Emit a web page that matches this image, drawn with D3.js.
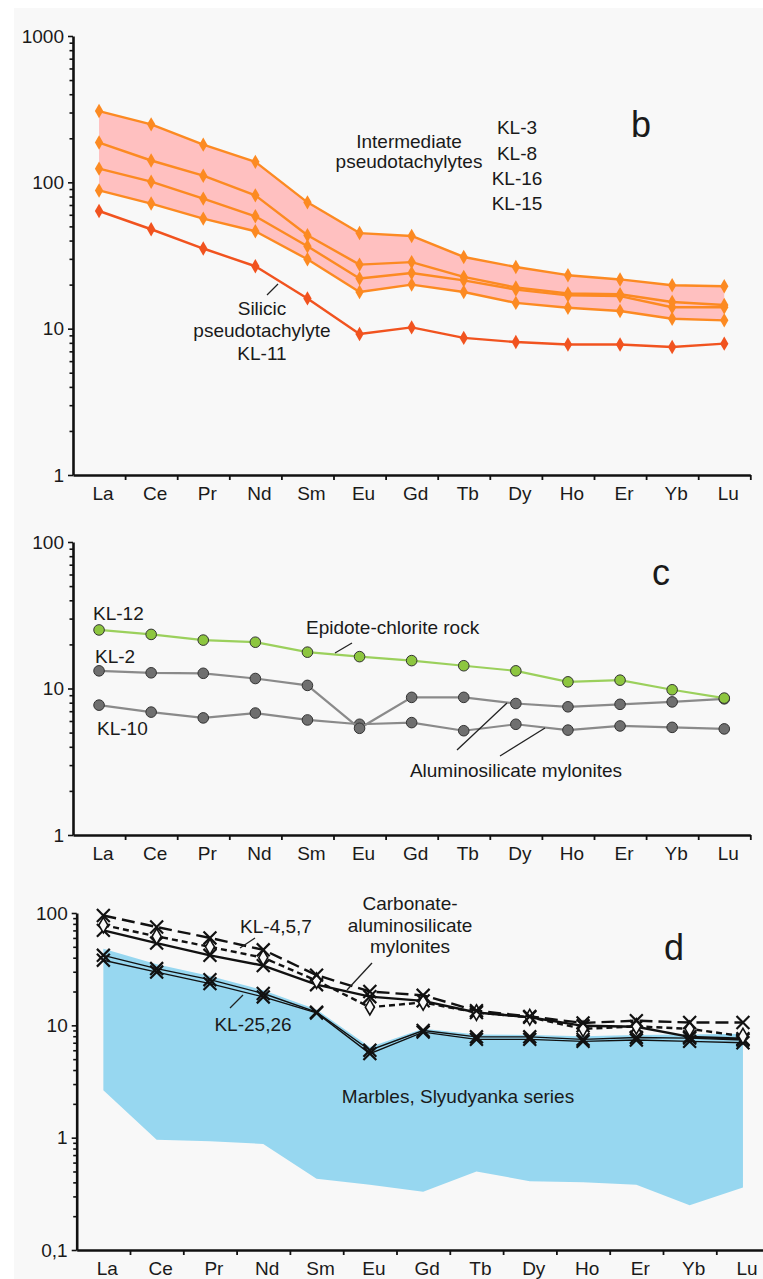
<!DOCTYPE html>
<meta charset="utf-8">

<head>
    <title>REE patterns</title>
</head>

<style>
    body {
        margin: 0;
        background: #fff;
    }

    svg text {
        font-family: "Liberation Sans", Arial, sans-serif;
        fill: #1a1a1a;
    }
</style>

<script src="https://d3js.org/d3.v7.min.js"></script>

<body>
    <div id="chart"></div>
</body>

<script>

    // element order on the x axis
    var ree = ["La", "Ce", "Pr", "Nd", "Sm", "Eu", "Gd", "Tb", "Dy", "Ho", "Er", "Yb", "Lu"];

    // panel b: pseudotachylytes
    var kl3 = [307, 249, 181, 138, 73, 45, 43, 30.9, 26.4, 23.2, 21.7, 19.8, 19.5];
    var kl8 = [187, 141, 111, 81.5, 43.5, 27.4, 28.5, 22.6, 19.1, 17.4, 17.2, 15.2, 14.5];
    var kl16 = [124, 101, 77.4, 58.6, 36.6, 22, 24, 21.4, 18.5, 16.9, 16.7, 14, 14];
    var kl15 = [88, 71.6, 56.5, 46.3, 29.8, 17.8, 20, 17.8, 15, 13.9, 13.2, 11.7, 11.4];
    var kl11 = [63.7, 47.8, 35.3, 26.7, 16.1, 9.2, 10.2, 8.65, 8.1, 7.8, 7.8, 7.5, 7.9];

    // panel c: epidote-chlorite rock and aluminosilicate mylonites
    var kl12 = [25.1, 23.4, 21.4, 20.7, 17.7, 16.5, 15.5, 14.3, 13.2, 11.1, 11.4, 9.8, 8.6];
    var kl2 = [13.2, 12.8, 12.7, 11.7, 10.5, 5.35, 8.7, 8.7, 7.9, 7.5, 7.8, 8.1, 8.5];
    var kl10 = [7.7, 6.9, 6.3, 6.8, 6.1, 5.7, 5.85, 5.15, 5.7, 5.2, 5.55, 5.43, 5.3];

    // panel d: carbonate-aluminosilicate mylonites and marbles
    var kl4 = [95, 75, 60, 47, 28, 20, 18.5, 13.5, 12, 10.5, 11, 10.6, 10.6];
    var kl5 = [78, 62, 50, 40, 25, 14.5, 16, 13, 11.8, 9.3, 9.8, 9.3, 8.0];
    var kl7 = [70, 54, 42, 34, 23, 18, 16.5, 13, 11.8, 9.9, 9.7, 7.9, 7.6];
    var kl25 = [42, 32, 25.5, 19.2, 13.1, 6.0, 9.0, 7.9, 7.9, 7.5, 7.8, 7.7, 7.4];
    var kl26 = [38, 29.8, 23.5, 17.9, 12.9, 5.6, 8.7, 7.5, 7.5, 7.2, 7.4, 7.2, 7.0];
    var marbleTop = [48, 35, 27.5, 20.5, 13.8, 6.4, 9.3, 8.3, 8.2, 8.0, 8.2, 8.3, 8.4];
    var marbleBottom = [2.64, 0.96, 0.93, 0.88, 0.43, 0.38, 0.33, 0.50, 0.41, 0.40, 0.38, 0.25, 0.36];

    var W = 763, H = 1279;

    var svg = d3.select("#chart")
        .append("svg")
        .attr("width", W)
        .attr("height", H);

    svg.append("rect")
        .attr("x", 14).attr("y", 8)
        .attr("width", W - 14).attr("height", H - 8)
        .attr("fill", "#f8f8f8");

    // builds the axes of one panel and returns its scales
    function makePanel(x0, step, yBottom, yTop, lo, hi, fmt) {
        var xb = d3.scaleBand().domain(ree).range([x0, x0 + step * ree.length]);
        var xi = d3.scaleLinear().domain([0, ree.length]).range([x0, x0 + step * ree.length]);
        var y = d3.scaleLog().domain([lo, hi]).range([yBottom, yTop]);

        var ticks = [];
        for (var e = Math.round(Math.log10(lo)); e < Math.round(Math.log10(hi)); e++) {
            for (var k = 1; k <= 9; k++) ticks.push(+(k * Math.pow(10, e)).toPrecision(3));
        }
        ticks.push(hi);
        var isMajor = function (d) { return Math.abs(Math.log10(d) - Math.round(Math.log10(d))) < 1e-6; };

        var ya = svg.append("g")
            .attr("transform", "translate(" + x0 + ",0)")
            .call(d3.axisLeft(y).tickValues(ticks).tickSize(5).tickSizeOuter(0).tickPadding(4)
                .tickFormat(function (d) { return isMajor(d) ? fmt(d) : ""; }));
        ya.select(".domain").attr("stroke", "#111").attr("stroke-width", 2.6);
        ya.selectAll(".tick line").attr("stroke", "#111").attr("stroke-width", 1.6)
            .attr("x2", function (d) { return isMajor(d) ? -5 : -3.5; });
        ya.selectAll(".tick text").style("font-size", "19px").attr("fill", "#1a1a1a");

        var xa = svg.append("g")
            .attr("transform", "translate(0," + yBottom + ")")
            .call(d3.axisBottom(xi).tickValues(d3.range(1, ree.length + 1)).tickSize(5).tickSizeOuter(0).tickFormat(""));
        xa.select(".domain").attr("stroke", "#111").attr("stroke-width", 2.6);
        xa.selectAll(".tick line").attr("stroke", "#111").attr("stroke-width", 1.8);

        var xl = svg.append("g")
            .attr("transform", "translate(4," + yBottom + ")")
            .call(d3.axisBottom(xb).tickSize(0).tickPadding(12));
        xl.select(".domain").remove();
        xl.selectAll(".tick text").style("font-size", "19px").attr("fill", "#1a1a1a");

        var cx = function (i) { return xb(ree[i]) + xb.bandwidth() / 2; };
        return { cx: cx, y: y };
    }

    function label(x, y, txt, size, anchor) {
        svg.append("text")
            .attr("x", x).attr("y", y)
            .attr("text-anchor", anchor || "middle")
            .style("font-size", (size || 19) + "px")
            .text(txt);
    }

    function leader(x1, y1, x2, y2) {
        svg.append("line")
            .attr("x1", x1).attr("y1", y1).attr("x2", x2).attr("y2", y2)
            .attr("stroke", "#222").attr("stroke-width", 1.3);
    }

    var fmtInt = function (d) { return d3.format("d")(d); };

    // ---------------- panel b
    var pb = makePanel(73, 52.1, 475, 36, 1, 1000, fmtInt);

    svg.append("path")
        .datum(ree.map(function (d, i) { return i; }))
        .attr("fill", "#ffc0c0")
        .attr("d", d3.area()
            .x(function (i) { return pb.cx(i); })
            .y0(function (i) { return pb.y(kl15[i]); })
            .y1(function (i) { return pb.y(kl3[i]); }));

    var seriesB = [
        { v: kl3, c: "#fc8a22" },
        { v: kl8, c: "#fc8a22" },
        { v: kl16, c: "#fc8a22" },
        { v: kl15, c: "#fc8a22" },
        { v: kl11, c: "#f1531f" }
    ];
    seriesB.forEach(function (s) {
        svg.append("path")
            .datum(s.v)
            .attr("fill", "none")
            .attr("stroke", s.c)
            .attr("stroke-width", 2.4)
            .attr("stroke-linejoin", "round")
            .attr("d", d3.line()
                .x(function (d, i) { return pb.cx(i); })
                .y(function (d) { return pb.y(d); }));
        svg.append("g").selectAll("path")
            .data(s.v)
            .join("path")
            .attr("transform", function (d, i) { return "translate(" + pb.cx(i) + "," + pb.y(d) + ")"; })
            .attr("d", d3.symbol().type(d3.symbolDiamond).size(60))
            .attr("fill", s.c);
    });

    label(409, 148, "Intermediate");
    label(409, 168, "pseudotachylytes");
    label(517, 134, "KL-3");
    label(517, 160, "KL-8");
    label(517, 185, "KL-16");
    label(517, 210, "KL-15");
    label(262, 315, "Silicic");
    label(262, 337, "pseudotachylyte");
    label(262, 360, "KL-11");
    leader(267, 295, 278, 284);
    label(641, 137, "b", 36);

    // ---------------- panel c
    var pc = makePanel(73, 52.1, 835, 542, 1, 100, fmtInt);

    var seriesC = [
        { v: kl10, c: "#8a8a8a", f: "#6f6f6f" },
        { v: kl2, c: "#8a8a8a", f: "#6f6f6f" },
        { v: kl12, c: "#9bd05c", f: "#8dc63f" }
    ];
    seriesC.forEach(function (s) {
        svg.append("path")
            .datum(s.v)
            .attr("fill", "none")
            .attr("stroke", s.c)
            .attr("stroke-width", 2.2)
            .attr("d", d3.line()
                .x(function (d, i) { return pc.cx(i); })
                .y(function (d) { return pc.y(d); }));
        svg.append("g").selectAll("circle")
            .data(s.v)
            .join("circle")
            .attr("cx", function (d, i) { return pc.cx(i); })
            .attr("cy", function (d) { return pc.y(d); })
            .attr("r", 5.3)
            .attr("fill", s.f)
            .attr("stroke", "#333")
            .attr("stroke-width", 1);
    });

    label(93, 620, "KL-12", 19, "start");
    label(95, 663, "KL-2", 19, "start");
    label(97, 735, "KL-10", 19, "start");
    label(306, 634, "Epidote-chlorite rock", 19, "start");
    leader(335, 653, 352, 643);
    label(516, 777, "Aluminosilicate mylonites");
    leader(457, 750, 507, 703);
    leader(500, 756, 545, 728);
    label(661, 585, "c", 36);

    // ---------------- panel d
    var pd = makePanel(76.7, 53.3, 1250, 913, 0.1, 100, function (d) {
        return d < 1 ? "0,1" : d3.format("d")(d);
    });

    svg.append("path")
        .datum(ree.map(function (d, i) { return i; }))
        .attr("fill", "#97d7f0")
        .attr("d", d3.area()
            .x(function (i) { return pd.cx(i); })
            .y0(function (i) { return pd.y(marbleBottom[i]); })
            .y1(function (i) { return pd.y(marbleTop[i]); }));

    var seriesD = [
        { v: kl26, dash: null, w: 1.4, m: "x" },
        { v: kl25, dash: null, w: 1.4, m: "x" },
        { v: kl7, dash: null, w: 2.4, m: "x" },
        { v: kl5, dash: "6,4", w: 2.4, m: "d" },
        { v: kl4, dash: "13,6", w: 2.4, m: "x" }
    ];
    seriesD.forEach(function (s) {
        svg.append("path")
            .datum(s.v)
            .attr("fill", "none")
            .attr("stroke", "#111")
            .attr("stroke-width", s.w)
            .attr("stroke-dasharray", s.dash)
            .attr("d", d3.line()
                .x(function (d, i) { return pd.cx(i); })
                .y(function (d) { return pd.y(d); }));
        svg.append("g").selectAll("path")
            .data(s.v)
            .join("path")
            .attr("transform", function (d, i) { return "translate(" + pd.cx(i) + "," + pd.y(d) + ")"; })
            .attr("d", s.m === "x" ? d3.symbol().type(d3.symbolTimes).size(110) : d3.symbol().type(d3.symbolDiamond).size(70))
            .attr("fill", s.m === "x" ? "none" : "#f8f8f8")
            .attr("stroke", "#111")
            .attr("stroke-width", s.m === "x" ? 2.2 : 1.6);
    });

    label(276, 933, "KL-4,5,7");
    leader(240, 948, 255, 938);
    label(253, 1031, "KL-25,26");
    leader(230, 1008, 243, 995);
    label(410, 910, "Carbonate-");
    label(410, 932, "aluminosilicate");
    label(410, 953, "mylonites");
    leader(347, 990, 372, 963);
    label(458, 1103, "Marbles, Slyudyanka series");
    label(674, 960, "d", 36);

</script>
